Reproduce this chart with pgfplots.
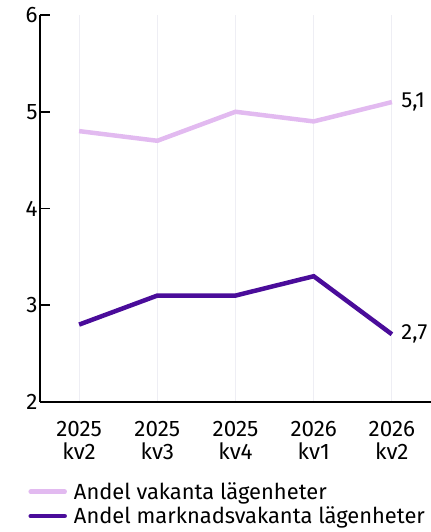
\documentclass[border=0pt]{standalone}
\usepackage{fontspec}
\setmainfont{Fira Sans}
\usepackage{pgfplots}
\pgfplotsset{compat=1.18}
\definecolor{lightlav}{HTML}{E2BAF0}
\definecolor{darkpurp}{HTML}{4A0C9A}
\definecolor{gridc}{HTML}{EEEEF4}

\begin{document}
\begin{tikzpicture}
\path[use as bounding box] (0,0) rectangle (431bp,532bp);
\begin{axis}[
	scale only axis, width=391bp, height=387bp,
	at={(40bp,130bp)}, anchor=south west,
	xmin=-0.5, xmax=4.5, ymin=2, ymax=6,
	axis lines=left, axis line style={-, line width=1.6pt, black},
	xtick={0,1,2,3,4},
	xticklabels={2025\\kv2, 2025\\kv3, 2025\\kv4, 2026\\kv1, 2026\\kv2},
	xticklabel style={align=center, anchor=north, yshift=-16bp, font=\fontsize{22.5}{23}\selectfont},
	ytick={2,3,4,5,6},
	yticklabel style={xshift=1bp, font=\fontsize{22.5}{25}\selectfont},
	x tick style={draw=none},
	y tick style={line width=1.6pt, black},
	major tick length=10bp, tick align=inside,
	xmajorgrids, grid style={gridc, line width=1.2pt},
	/pgf/number format/assume math mode=true,
	clip=false,
	legend style={at={(-0.03,-0.205)}, anchor=north west, draw=none,
		font=\fontsize{22}{25}\selectfont, row sep=4bp, inner sep=0pt,
		nodes={inner sep=1bp},
		legend cell align=left},
	legend image code/.code={\draw[#1, line cap=round, line width=4.5pt] (-2bp,0bp) -- (32bp,0bp);},
]
\addplot[lightlav, line width=4.5pt] coordinates {(0,4.8) (1,4.7) (2,5.0) (3,4.9) (4,5.1)};
\addlegendentry{\hspace{6bp}Andel vakanta lägenheter}
\addplot[darkpurp, line width=4.5pt] coordinates {(0,2.8) (1,3.1) (2,3.1) (3,3.3) (4,2.7)};
\addlegendentry{\hspace{6bp}Andel marknadsvakanta lägenheter}
\node[anchor=west, font=\fontsize{22}{25}\selectfont] at (axis cs:4,5.1) {\hspace{6bp}5,1};
\node[anchor=west, font=\fontsize{22}{25}\selectfont] at (axis cs:4,2.7) {\hspace{6bp}2,7};
\end{axis}
\end{tikzpicture}
\end{document}
